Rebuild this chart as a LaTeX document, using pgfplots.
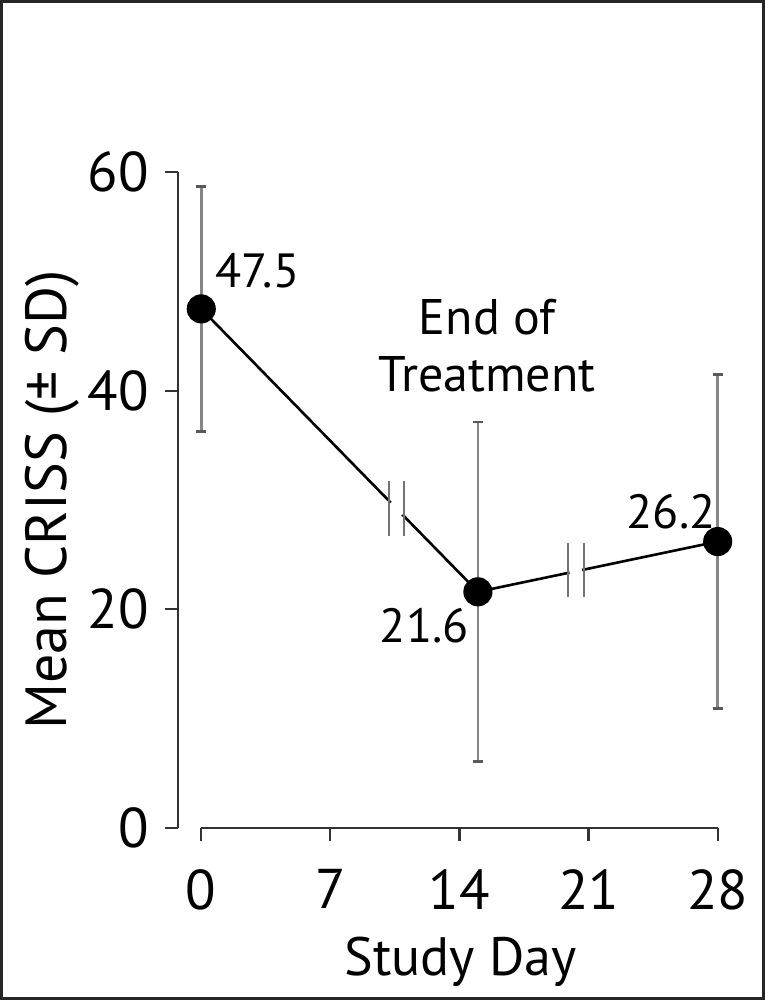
\documentclass[border=0pt]{standalone}
\usepackage{fontspec}
\setmainfont{PT Sans}
\usepackage{pgfplots}
\pgfplotsset{compat=1.18}
\begin{document}
\begin{tikzpicture}
\begin{axis}[
  x=9.185bp, y=5.44bp,
  xmin=-1.25, xmax=28, ymin=0, ymax=60,
  axis lines*=left,
  axis line style={black!80, line width=1.1bp},
  x axis line style={shorten <=11.48bp},
  xtick={0,7,14,21,28}, ytick={0,20,40,60},
  tick align=outside,
  major tick length=6.5bp,
  tick style={black!80, line width=1.1bp},
  ticklabel style={font=\fontsize{28}{28}\selectfont, inner sep=0pt},
  xticklabel style={yshift=-14bp},
  yticklabel style={xshift=-8bp},
  /pgf/number format/assume math mode=true,
  clip=false,
  xlabel={Study Day}, ylabel={Mean CRISS (± SD)},
  xlabel style={at={(axis cs:14.05,-13.5)}, anchor=base, font=\fontsize{27}{27}\selectfont},
  ylabel style={at={(axis cs:-7.29,30)}, anchor=base, font=\fontsize{29}{29}\selectfont},
]
% error bars (SD)
\addplot[draw=none, mark=none, forget plot,
  error bars/.cd, y dir=both, y explicit,
  error bar style={draw=black!48, line width=1.4bp},
  error mark options={rotate=90, mark size=2.5bp, line width=1.4bp, draw=black!65}]
  coordinates {(0,47.5) +- (0,11.2) (15,21.6) +- (0,15.55) (28,26.2) +- (0,15.3)};
% means
\addplot[black, line width=1.3bp, mark=*, mark size=6.6bp, mark options={fill=black}]
  coordinates {(0,47.5) (15,21.6) (28,26.2)};
% axis-break symbols on the line
\draw[white, line width=3.5bp] (axis cs:10.28,29.75) -- (axis cs:10.90,28.68);
\draw[black!55, line width=1.1bp] (axis cs:10.18,26.75) -- (axis cs:10.18,31.7);
\draw[black!55, line width=1.1bp] (axis cs:11.0,26.75) -- (axis cs:11.0,31.7);
\draw[white, line width=3.5bp] (axis cs:19.97,23.37) -- (axis cs:20.64,23.60);
\draw[black!55, line width=1.1bp] (axis cs:19.87,21.1) -- (axis cs:19.87,26.1);
\draw[black!55, line width=1.1bp] (axis cs:20.74,21.1) -- (axis cs:20.74,26.1);
% value labels
\node[font=\fontsize{24}{24}\selectfont] at (axis cs:3.05,51.0) {47.5};
\node[font=\fontsize{24}{24}\selectfont] at (axis cs:12.09,18.5) {21.6};
\node[font=\fontsize{24}{24}\selectfont] at (axis cs:25.48,28.95) {26.2};
\node[font=\fontsize{25}{28.5}\selectfont, align=center] at (axis cs:15.5,44.1) {End of\\Treatment};
% outer frame
\draw[black!85, line width=1.5bp] (axis cs:-10.83,-15.63) rectangle (axis cs:30.48,75.64);
\end{axis}
\end{tikzpicture}
\end{document}
